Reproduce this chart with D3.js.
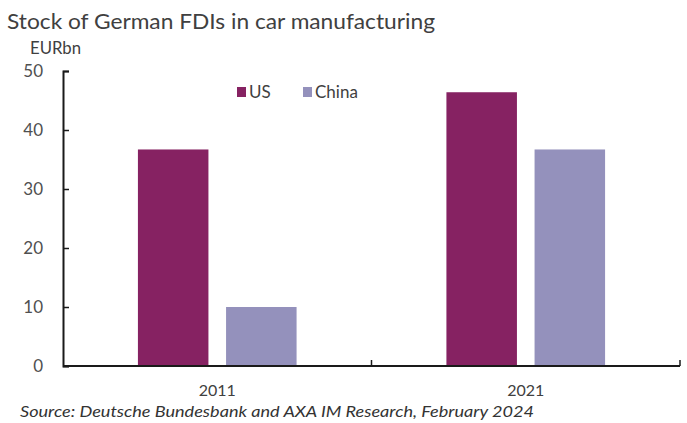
<!DOCTYPE html>
<html>
<head>
<meta charset="utf-8">
<script src="https://cdn.jsdelivr.net/npm/d3@7/dist/d3.min.js"></script>
<style>
  html, body { margin: 0; padding: 0; background: #fff; }
  svg { display: block; font-family: Lato, "Open Sans", sans-serif; }
</style>
</head>
<body>
<svg id="chart" width="687" height="423"></svg>
<script>
// Stock of German FDIs in car manufacturing, EUR bn
const years = ["2011", "2021"];
const seriesNames = ["US", "China"];
const usValues = [36.7, 46.4];
const chinaValues = [10.0, 36.7];
const yTicks = [0, 10, 20, 30, 40, 50];
const colors = ["#862262", "#9491bc"];

const rows = years.map((yr, i) => ({ year: yr, values: [usValues[i], chinaValues[i]] }));

const svg = d3.select("#chart");
const plotLeft = 63, plotRight = 680, plotTop = 71, plotBottom = 366;
const labelFont = "Lato, 'Open Sans', sans-serif";

const y = d3.scaleLinear().domain([0, 50]).range([plotBottom, plotTop]);
const x0 = d3.scaleBand().domain(years).range([plotLeft, plotRight]).paddingInner(0).paddingOuter(0);
const x1 = d3.scaleBand().domain(seriesNames).range([0, x0.bandwidth()])
  .paddingInner(0.2).paddingOuter(0.85);
const color = d3.scaleOrdinal().domain(seriesNames).range(colors);

// Title and unit
svg.append("text").attr("x", 7).attr("y", 29)
  .attr("font-size", 21).attr("fill", "#404040")
  .attr("textLength", 428).attr("lengthAdjust", "spacingAndGlyphs")
  .text("Stock of German FDIs in car manufacturing");
svg.append("text").attr("x", 30).attr("y", 54)
  .attr("font-size", 16.5).attr("fill", "#404040")
  .attr("textLength", 51).attr("lengthAdjust", "spacingAndGlyphs")
  .text("EURbn");

// Bars
const groups = svg.append("g").selectAll("g").data(rows).join("g")
  .attr("transform", d => `translate(${x0(d.year)},0)`);
groups.selectAll("rect")
  .data(d => d.values.map((v, i) => ({ key: seriesNames[i], value: v })))
  .join("rect")
  .attr("x", d => x1(d.key))
  .attr("width", x1.bandwidth())
  .attr("y", d => y(d.value))
  .attr("height", d => y(0) - y(d.value))
  .attr("fill", d => color(d.key));

// Y axis: ticks point inward, small cap at top
const yAxis = svg.append("g").attr("transform", `translate(${plotLeft},0)`)
  .call(d3.axisLeft(y).tickValues(yTicks).tickSizeInner(-6).tickSizeOuter(-6).tickPadding(20));
yAxis.select(".domain").attr("stroke", "#1a1a1a").attr("stroke-width", 2);
yAxis.selectAll(".tick line").attr("stroke", "#1a1a1a").attr("stroke-width", 1.5);
yAxis.selectAll(".tick text").attr("font-size", 17).attr("fill", "#505050")
  .attr("font-family", labelFont);

// X axis: category labels below, boundary ticks pointing up
const xAxis = svg.append("g").attr("transform", `translate(0,${plotBottom})`)
  .call(d3.axisBottom(x0).tickSize(0).tickPadding(19));
xAxis.select(".domain").remove();
xAxis.selectAll(".tick text").attr("font-size", 16).attr("fill", "#404040")
  .attr("font-family", labelFont);
svg.append("line").attr("x1", plotLeft).attr("x2", plotRight).attr("y1", plotBottom).attr("y2", plotBottom)
  .attr("stroke", "#1a1a1a").attr("stroke-width", 2);
const boundaries = years.map(d => x0(d) + x0.bandwidth());
svg.append("g").selectAll("line").data(boundaries).join("line")
  .attr("x1", d => d).attr("x2", d => d)
  .attr("y1", plotBottom).attr("y2", plotBottom - 6)
  .attr("stroke", "#1a1a1a").attr("stroke-width", 1.5);

// Legend
const legendX = [237, 303];
const legend = svg.append("g").selectAll("g").data(seriesNames).join("g")
  .attr("transform", (d, i) => `translate(${legendX[i]},87)`);
legend.append("rect").attr("width", 9).attr("height", 10).attr("fill", d => color(d));
legend.append("text").attr("x", 12).attr("y", 11)
  .attr("font-size", 17).attr("fill", "#404040").text(d => d);

// Source note
svg.append("text").attr("x", 20).attr("y", 417)
  .attr("font-size", 15.5).attr("font-style", "italic").attr("fill", "#333")
  .attr("textLength", 514).attr("lengthAdjust", "spacingAndGlyphs")
  .text("Source: Deutsche Bundesbank and AXA IM Research, February 2024");
</script>
</body>
</html>
